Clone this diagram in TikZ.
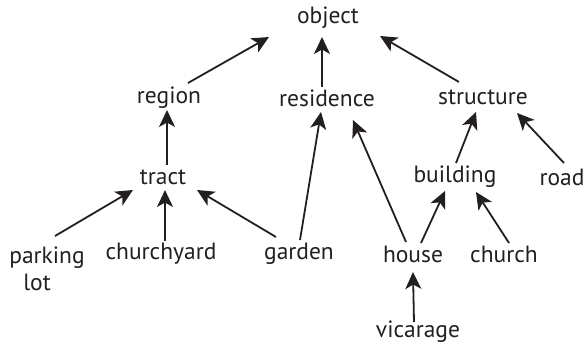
\documentclass[tikz,border=0pt]{standalone}
\usepackage{fontspec}
\setmainfont{PT Sans}
\usetikzlibrary{arrows.meta}
\definecolor{ink}{HTML}{231F20}
\begin{document}
\begin{tikzpicture}[x=1pt,y=-1pt,
  term/.style={inner sep=0pt, text=ink, font=\fontsize{23.5}{28}\selectfont, align=center},
  isa/.style={draw=ink, line width=1.8pt, -{Stealth[length=17pt,width=16pt,inset=4.5pt]}}]
\useasboundingbox (0,0) rectangle (587,350);
% concept nodes
\node[term] (object)    at (328,18)  {object};
\node[term] (region)    at (169,98)  {region};
\node[term] (residence) at (327,98)  {residence};
\node[term] (structure) at (483,97)  {structure};
\node[term] (tract)     at (163,177) {tract};
\node[term] (building)  at (455,177) {building};
\node[term] (road)      at (562,177) {road};
\node[term] (parking)   at (47,269)  {parking\\[-1pt]lot\hspace*{0.85em}};
\node[term] (churchyard) at (161,254) {churchyard};
\node[term] (garden)    at (299,254) {garden};
\node[term] (house)     at (413,254) {house};
\node[term] (church)    at (504,254) {church};
\node[term] (vicarage)  at (418,332) {vicarage};
% is-a links
\draw[isa] ([shift={(19,-15)}]region.center)    -- ([shift={(-59,19)}]object.center);
\draw[isa] ([shift={(-5,-11)}]residence.center) -- ([shift={(-6,19)}]object.center);
\draw[isa] ([shift={(-24,-15)}]structure.center) -- ([shift={(52,18)}]object.center);
\draw[isa] ([shift={(4,-12)}]tract.center)      -- ([shift={(-2,12)}]region.center);
\draw[isa] ([shift={(1,-14)}]garden.center)     -- ([shift={(-6,14)}]residence.center);
\draw[isa] ([shift={(-7,-12)}]house.center)     -- ([shift={(26,22)}]residence.center);
\draw[isa] ([shift={(1,-14)}]building.center)   -- ([shift={(-7,15)}]structure.center);
\draw[isa] ([shift={(2,-14)}]road.center)       -- ([shift={(34,16)}]structure.center);
\draw[isa] ([shift={(8,-33)}]parking.center)    -- ([shift={(-30,13)}]tract.center);
\draw[isa] ([shift={(4,-13)}]churchyard.center) -- ([shift={(2,13)}]tract.center);
\draw[isa] ([shift={(-23,-17)}]garden.center)   -- ([shift={(34,13)}]tract.center);
\draw[isa] ([shift={(8,-11)}]house.center)      -- ([shift={(-10,14)}]building.center);
\draw[isa] ([shift={(5,-11)}]church.center)     -- ([shift={(21,15)}]building.center);
\draw[isa] ([shift={(-4,-10)}]vicarage.center)  -- ([shift={(0,18)}]house.center);
\end{tikzpicture}
\end{document}
